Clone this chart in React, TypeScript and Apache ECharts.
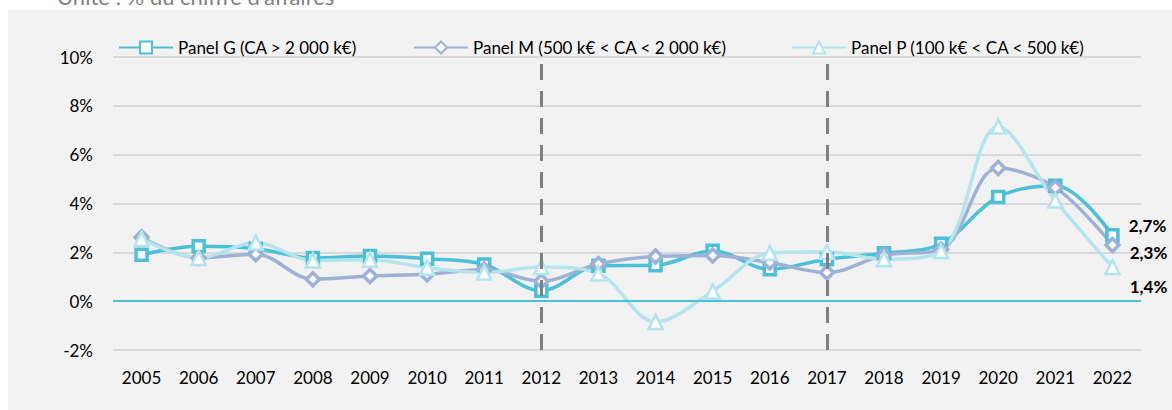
import React, { useEffect, useRef } from "react";
import * as echarts from "echarts";

const years = ["2005", "2006", "2007", "2008", "2009", "2010", "2011", "2012", "2013", "2014", "2015", "2016", "2017", "2018", "2019", "2020", "2021", "2022"];
const panelG = [1.9, 2.25, 2.15, 1.77, 1.85, 1.74, 1.5, 0.43, 1.45, 1.47, 2.06, 1.31, 1.72, 1.96, 2.35, 4.27, 4.73, 2.7];
const panelM = [2.62, 1.77, 1.92, 0.9, 1.03, 1.1, 1.3, 0.82, 1.52, 1.83, 1.87, 1.58, 1.17, 1.88, 2.12, 5.45, 4.65, 2.3];
const panelP = [2.55, 1.77, 2.4, 1.67, 1.7, 1.37, 1.17, 1.4, 1.13, -0.85, 0.4, 1.97, 2.02, 1.72, 2.05, 7.15, 4.12, 1.4];
const seriesNames = ["Panel G (CA > 2 000 k€)", "Panel M (500 k€ < CA < 2 000 k€)", "Panel P (100 k€ < CA < 500 k€)"];
const markYears = ["2012", "2017"];
const subtitle = "Unité : % du chiffre d'affaires";

const FONT = "Lato, 'Open Sans', sans-serif";
const C_G = "#4BC0D6";
const C_M = "#9DB2D5";
const C_P = "#B4E5EC";
const legendLefts = [113, 408, 786];

export default function App() {
  const ref = useRef<HTMLDivElement>(null);
  useEffect(() => {
    const chart = echarts.init(ref.current as HTMLDivElement, null, { renderer: "svg" });
    const mk = (name: string, data: number[], color: string, symbol: string, size: number, bw: number, dy: number, extra: any = {}) => ({
      name,
      type: "line",
      smooth: 0.35,
      symbol,
      symbolSize: size,
      showAllSymbol: true,
      lineStyle: { color, width: 3.5 },
      itemStyle: { color: "#ffffff", borderColor: color, borderWidth: bw },
      emphasis: { disabled: true },
      data: data.map((v, i) =>
        i === data.length - 1
          ? {
              value: v,
              label: {
                show: true,
                position: "right",
                distance: 6,
                offset: [3, dy],
                formatter: v.toFixed(1).replace(".", ",") + "%",
                fontFamily: FONT,
                fontSize: 17,
                fontWeight: "bold",
                color: "#000000",
              },
            }
          : v
      ),
      ...extra,
    });

    chart.setOption({
      animation: false,
      backgroundColor: "transparent",
      textStyle: { fontFamily: FONT },
      graphic: [
        {
          type: "text",
          left: 57,
          top: -15,
          style: { text: subtitle, fontFamily: FONT, fontSize: 22, fill: "#7F7F7F" },
          silent: true,
        },
      ],
      legend: seriesNames.map((n, i) => ({
        left: legendLefts[i],
        top: 34,
        itemWidth: 54,
        itemHeight: 15,
        textStyle: { fontFamily: FONT, fontSize: 17, color: "#000000" },
        data: [n],
      })),
      grid: { left: 113, right: 31, top: 57, bottom: 60 },
      xAxis: {
        type: "category",
        data: years,
        boundaryGap: true,
        axisLine: { show: false },
        axisTick: { show: false },
        axisLabel: { fontFamily: FONT, fontSize: 17, color: "#000000", margin: 19 },
        splitLine: { show: false },
      },
      yAxis: {
        type: "value",
        min: -2,
        max: 10,
        interval: 2,
        axisLine: { show: false },
        axisTick: { show: false },
        axisLabel: { fontFamily: FONT, fontSize: 17, color: "#000000", margin: 20, formatter: "{value}%" },
        splitLine: { lineStyle: { color: "#D9D9D9", width: 2 } },
      },
      series: [
        mk(seriesNames[0], panelG, C_G, "rect", 11, 3.5, -10, {
          markLine: {
            silent: true,
            symbol: ["none", "none"],
            label: { show: false },
            data: [
              { yAxis: 0, lineStyle: { color: C_G, width: 2, type: "solid" } },
              ...markYears.map((y) => ({ xAxis: y, lineStyle: { color: "#7F7F7F", width: 3, type: [16, 11] } })),
            ],
          },
        }),
        mk(seriesNames[1], panelM, C_M, "diamond", 13, 3.5, 7),
        mk(seriesNames[2], panelP, C_P, "triangle", 14, 2.5, 20),
      ],
    });
    return () => chart.dispose();
  }, []);

  return (
    <div style={{ position: "absolute", left: 0, top: 0, width: 1172, height: 410, background: "#ffffff", overflow: "hidden" }}>
      <div style={{ position: "absolute", left: 8, top: 10, width: 1164, height: 400, background: "#F2F2F2" }} />
      <div ref={ref} style={{ position: "absolute", left: 0, top: 0, width: 1172, height: 410 }} />
    </div>
  );
}
